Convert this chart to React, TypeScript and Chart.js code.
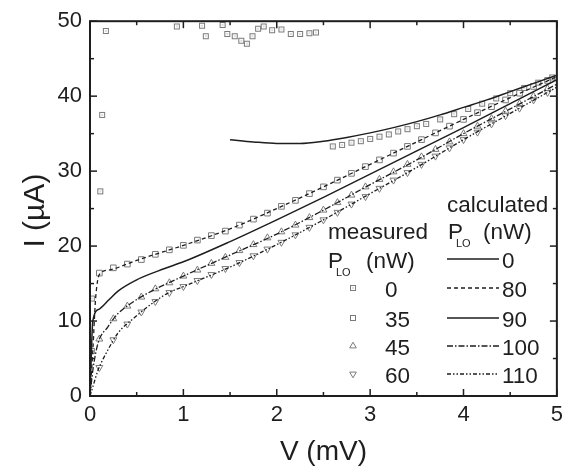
import React, { useEffect, useRef } from "react";
import { Chart, registerables } from "chart.js";

Chart.register(...registerables);

// ---- axis ticks ----
const xTickValues = [0, 1, 2, 3, 4, 5];
const yTickValues = [0, 10, 20, 30, 40, 50];

// ---- legend labels ----
const measuredPowers = ["0", "35", "45", "60"];
const calculatedPowers = ["0", "80", "90", "100", "110"];

// ---- measured data (V in mV, I in uA) ----
const measV = [
  0.1, 0.25, 0.4, 0.55, 0.7, 0.85, 1.0, 1.15, 1.3, 1.45, 1.6, 1.75, 1.9, 2.05, 2.2, 2.35, 2.5,
  2.65, 2.8, 2.95, 3.1, 3.25, 3.4, 3.55, 3.7, 3.85, 4.0, 4.15, 4.3, 4.45, 4.6, 4.75, 4.9,
];
const meas35I = [
  16.4, 17.1, 17.6, 18.2, 18.9, 19.5, 20.1, 20.8, 21.4, 22.0, 22.8, 23.6, 24.4, 25.3, 26.1, 27.0, 27.9,
  28.8, 29.7, 30.6, 31.5, 32.4, 33.3, 34.2, 35.1, 36.0, 36.9, 37.8, 38.6, 39.5, 40.4, 41.3, 42.1,
];
const meas45I = [
  7.6, 10.3, 12.0, 13.2, 14.3, 15.1, 16.0, 16.8, 17.7, 18.5, 19.4, 20.2, 21.1, 21.9, 22.8, 23.8, 24.8,
  25.8, 26.8, 27.9, 28.9, 29.9, 30.9, 31.9, 32.9, 33.9, 35.0, 36.0, 37.0, 38.0, 39.0, 40.0, 41.0,
];
const meas60I = [
  3.8, 7.5, 9.6, 11.2, 12.6, 13.8, 14.6, 15.4, 16.2, 17.0, 17.8, 18.7, 19.6, 20.5, 21.5, 22.5, 23.5,
  24.5, 25.6, 26.6, 27.7, 28.8, 29.8, 30.9, 32.0, 33.1, 34.2, 35.2, 36.3, 37.4, 38.4, 39.5, 40.5,
];
const meas0V = [
  0.02, 0.02, 0.11, 0.13, 0.17, 0.93, 1.2, 1.24, 1.42, 1.47, 1.55, 1.62, 1.68, 1.74, 1.8, 1.86, 1.95,
  2.05, 2.15, 2.25, 2.35, 2.42, 2.6, 2.7, 2.8, 2.9, 3.0, 3.1, 3.2, 3.3, 3.4, 3.5, 3.6, 3.75, 3.9,
  4.05, 4.2, 4.35, 4.5, 4.65, 4.8, 4.95,
];
const meas0I = [
  6.0, 13.0, 27.3, 37.5, 48.7, 49.3, 49.4, 48.0, 49.5, 48.3, 48.0, 47.4, 47.0, 48.0, 49.0, 49.3, 48.8,
  48.9, 48.3, 48.3, 48.4, 48.5, 33.3, 33.5, 33.8, 34.0, 34.3, 34.6, 34.9, 35.3, 35.6, 36.0, 36.3, 36.9, 37.6,
  38.3, 39.0, 39.7, 40.4, 41.1, 41.8, 42.5,
];

// ---- calculated curves ----
const calc0V = [1.5, 1.75, 2, 2.25, 2.5, 2.75, 3, 3.25, 3.5, 3.75, 4, 4.25, 4.5, 4.75, 5];
const calc0I = [34.2, 33.9, 33.7, 33.7, 34.0, 34.5, 35.1, 35.8, 36.6, 37.5, 38.5, 39.5, 40.6, 41.7, 42.8];
const calc80V = [0, 0.03, 0.06, 0.1, 0.2, 0.5, 1, 1.5, 2, 2.5, 3, 3.5, 4, 4.5, 5];
const calc80I = [0, 6, 13, 16.2, 16.8, 18.1, 20.1, 22.3, 25, 27.9, 30.9, 33.9, 36.9, 39.8, 42.6];
const calc90V = [0, 0.01, 0.03, 0.1, 0.2, 0.3, 0.5, 0.8, 1, 1.5, 2, 2.5, 3, 3.5, 4, 4.5, 5];
const calc90I = [0, 4, 10, 11.6, 12.8, 14, 15.5, 17, 17.9, 20.6, 23.5, 26.5, 29.6, 32.7, 35.8, 39, 42.2];
const calc100V = [0, 0.03, 0.085, 0.19, 0.3, 0.48, 0.66, 1, 1.5, 2, 2.5, 3, 3.5, 4, 4.5, 5];
const calc100I = [0, 3.4, 7, 9.2, 11, 12.7, 14, 16, 18.8, 21.6, 24.8, 28.2, 31.5, 35, 38.3, 41.6];
const calc110V = [0, 0.03, 0.085, 0.19, 0.3, 0.48, 0.66, 0.83, 1, 1.5, 2, 2.5, 3, 3.5, 4, 4.5, 5];
const calc110I = [0, 1.2, 3.4, 6.1, 8.4, 10.5, 12.3, 13.7, 14.6, 17.2, 20.2, 23.5, 27, 30.5, 34.2, 37.7, 41.2];

const FONT = '"Liberation Sans", Arial, Helvetica, sans-serif';
const INK = "#1e1e1e";
const MARK = "#7a7a7a";

const pts = (xs: number[], ys: number[]) => xs.map((v, i) => ({ x: v, y: ys[i] }));

const dashes: number[][] = [[], [4, 3], [], [6, 2, 1.5, 2], [4, 2, 1.5, 2, 1.5, 2]];

function makeDotSquare(): HTMLCanvasElement {
  const c = document.createElement("canvas");
  c.width = 8;
  c.height = 8;
  const g = c.getContext("2d")!;
  g.strokeStyle = MARK;
  g.lineWidth = 1;
  g.strokeRect(1.5, 1.5, 5, 5);
  g.fillStyle = MARK;
  g.fillRect(3.5, 3.5, 1, 1);
  return c;
}

function drawMarker(ctx: CanvasRenderingContext2D, kind: number, x: number, y: number, dotSq: HTMLCanvasElement) {
  ctx.save();
  ctx.strokeStyle = MARK;
  ctx.lineWidth = 1;
  if (kind === 0) {
    ctx.drawImage(dotSq, x - 4, y - 4);
  } else if (kind === 1) {
    ctx.strokeRect(x - 2.5, y - 2.5, 5, 5);
  } else {
    const r = 3.8;
    const s = kind === 2 ? 1 : -1;
    ctx.beginPath();
    ctx.moveTo(x, y - s * r);
    ctx.lineTo(x + r * 0.87, y + s * r * 0.5);
    ctx.lineTo(x - r * 0.87, y + s * r * 0.5);
    ctx.closePath();
    ctx.stroke();
  }
  ctx.restore();
}

export default function App() {
  const ref = useRef<HTMLCanvasElement | null>(null);

  useEffect(() => {
    document.body.style.margin = "0";
    const canvas = ref.current!;
    const dotSq = makeDotSquare();

    const decor = {
      id: "decor",
      afterDraw(chart: any) {
        const { ctx, chartArea: a } = chart;
        const xs = chart.scales.x;
        const ys = chart.scales.y;
        ctx.save();
        // frame
        ctx.strokeStyle = INK;
        ctx.lineWidth = 2;
        ctx.strokeRect(a.left, a.top, a.right - a.left, a.bottom - a.top);
        // ticks (inward, all four sides)
        ctx.lineWidth = 1.5;
        const seg = (x1: number, y1: number, x2: number, y2: number) => {
          ctx.beginPath();
          ctx.moveTo(x1, y1);
          ctx.lineTo(x2, y2);
          ctx.stroke();
        };
        for (let k = 0; k <= 10; k++) {
          const v = k * 0.5;
          const px = xs.getPixelForValue(v);
          const L = k % 2 === 0 ? 7 : 4;
          seg(px, a.bottom, px, a.bottom - L);
          seg(px, a.top, px, a.top + L);
        }
        for (let k = 0; k <= 10; k++) {
          const v = k * 5;
          const py = ys.getPixelForValue(v);
          const L = k % 2 === 0 ? 7 : 4;
          seg(a.left, py, a.left + L, py);
          seg(a.right, py, a.right - L, py);
        }
        // axis titles
        ctx.fillStyle = INK;
        ctx.font = `28px ${FONT}`;
        ctx.textAlign = "center";
        ctx.textBaseline = "middle";
        ctx.fillText("V (mV)", (a.left + a.right) / 2, 452);
        ctx.save();
        ctx.font = `30px ${FONT}`;
        ctx.translate(36, (a.top + a.bottom) / 2 + 2);
        ctx.rotate(-Math.PI / 2);
        ctx.fillText("I (\u00b5A)", 0, 0);
        ctx.restore();

        // legend
        const big = `22.5px ${FONT}`;
        const small = `11px ${FONT}`;
        ctx.textAlign = "left";
        ctx.textBaseline = "alphabetic";
        ctx.font = big;
        ctx.fillText("calculated", 447, 212);
        ctx.fillText("measured", 328, 239);
        const plo = (x0: number, base: number, gap: number) => {
          ctx.font = big;
          ctx.fillText("P", x0, base);
          ctx.font = small;
          ctx.fillText("LO", x0 + 8, base + 8);
          ctx.font = big;
          ctx.fillText("(nW)", x0 + gap, base);
        };
        plo(328, 268, 38);
        plo(448, 239, 35);
        const leftBase = [297, 327, 355, 383];
        measuredPowers.forEach((p, i) => {
          drawMarker(ctx, i, 353, leftBase[i] - 9, dotSq);
          ctx.font = big;
          ctx.fillStyle = INK;
          ctx.fillText(p, 385, leftBase[i]);
        });
        const rightBase = [268, 297, 327, 355, 383];
        calculatedPowers.forEach((p, i) => {
          ctx.save();
          ctx.strokeStyle = INK;
          ctx.lineWidth = 1.3;
          ctx.setLineDash(dashes[i]);
          seg(447, rightBase[i] - 9, 499, rightBase[i] - 9);
          ctx.restore();
          ctx.font = big;
          ctx.fillStyle = INK;
          ctx.fillText(p, 502, rightBase[i]);
        });
        ctx.restore();
      },
    };

    const markerSet = (label: string, data: any[], style: any, rot = 0) => ({
      type: "scatter" as const,
      label,
      data,
      showLine: false,
      pointStyle: style,
      pointRotation: rot,
      pointRadius: 4,
      pointBorderWidth: 1,
      pointBorderColor: MARK,
      pointBackgroundColor: "rgba(0,0,0,0)",
      order: 2,
    });
    const lineSet = (label: string, data: any[], dash: number[], width = 1.3) => ({
      type: "line" as const,
      label,
      data,
      borderColor: INK,
      borderWidth: width,
      borderDash: dash,
      pointRadius: 0,
      fill: false,
      cubicInterpolationMode: "monotone" as const,
      order: 1,
    });

    const chart = new Chart(canvas, {
      type: "scatter",
      data: {
        datasets: [
          markerSet("measured 0 nW", pts(meas0V, meas0I), dotSq),
          markerSet("measured 35 nW", pts(measV, meas35I), "rect"),
          markerSet("measured 45 nW", pts(measV, meas45I), "triangle"),
          markerSet("measured 60 nW", pts(measV, meas60I), "triangle", 180),
          lineSet("calculated 0 nW", pts(calc0V, calc0I), dashes[0], 1.5),
          lineSet("calculated 80 nW", pts(calc80V, calc80I), dashes[1]),
          lineSet("calculated 90 nW", pts(calc90V, calc90I), dashes[2], 1.5),
          lineSet("calculated 100 nW", pts(calc100V, calc100I), dashes[3]),
          lineSet("calculated 110 nW", pts(calc110V, calc110I), dashes[4]),
        ] as any,
      },
      options: {
        animation: false,
        responsive: false,
        devicePixelRatio: 1,
        layout: { padding: { top: 19, right: 11, left: 0, bottom: 0 } },
        plugins: { legend: { display: false }, tooltip: { enabled: false } },
        scales: {
          x: {
            type: "linear",
            min: 0,
            max: 5,
            afterBuildTicks: (s: any) => {
              s.ticks = xTickValues.map((v) => ({ value: v }));
            },
            afterFit: (s: any) => {
              s.height = 75;
            },
            ticks: { font: { family: FONT, size: 22 }, color: INK, padding: 6, maxRotation: 0, autoSkip: false },
            grid: { display: false, drawTicks: false },
            border: { display: false },
          },
          y: {
            type: "linear",
            min: 0,
            max: 50,
            afterBuildTicks: (s: any) => {
              s.ticks = yTickValues.map((v) => ({ value: v }));
            },
            afterFit: (s: any) => {
              s.width = 90;
            },
            ticks: { font: { family: FONT, size: 22 }, color: INK, padding: 8, autoSkip: false },
            grid: { display: false, drawTicks: false },
            border: { display: false },
          },
        },
      },
      plugins: [decor],
    });
    return () => chart.destroy();
  }, []);

  return (
    <div style={{ position: "fixed", left: 0, top: 0, width: 569, height: 471, background: "#fff" }}>
      <canvas ref={ref} width={569} height={471} />
    </div>
  );
}
